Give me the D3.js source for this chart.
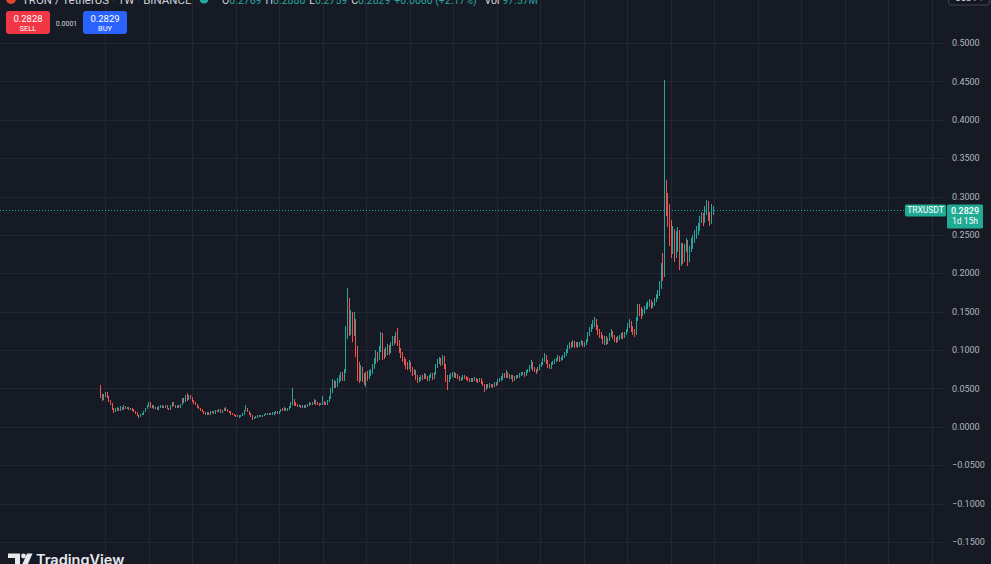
<!DOCTYPE html>
<html><head><meta charset="utf-8">
<script src="https://cdn.jsdelivr.net/npm/d3@7"></script>
<style>html,body{margin:0;padding:0;background:#161a25;overflow:hidden}svg{display:block}</style>
</head><body><svg id="c" width="991" height="564"></svg>
<script>
// ---------- data ----------
const symbol = "TRXUSDT";
const title = "TRON / TetherUS · 1W · BINANCE";
const legendLabels = ["O", "H", "L", "C"];
const legendValues = ["0.2769", "0.2880", "0.2759", "0.2829"];
const changeText = "+0.0060 (+2.17%)";
const volText = "Vol 97.57M";
const sellPrice = "0.2828", buyPrice = "0.2829", spreadText = "0.0001";
const lastPrice = 0.2829;
const countdown = "1d 15h";
const currency = "USDT";
const priceTicks = [-0.15, -0.10, -0.05, 0, 0.05, 0.10, 0.15, 0.20, 0.25, 0.30, 0.35, 0.40, 0.45, 0.50];
const firstWeek = "2018-06-11";
const firstOpen = 0.050;
const closes = [
.040,.036,.041,.044,.039,.034,.030,.024,.020,.022,
.024,.022,.025,.023,.026,.024,.025,.023,.024,.022,
.020,.018,.015,.014,.016,.017,.020,.024,.027,.030,
.026,.028,.024,.025,.023,.026,.027,.025,.026,.028,
.024,.023,.027,.031,.028,.026,.027,.025,.029,.035,
.033,.039,.036,.040,.038,.034,.032,.029,.026,.024,
.022,.020,.018,.017,.018,.017,.019,.020,.018,.021,
.020,.022,.019,.021,.023,.022,.020,.019,.017,.016,
.015,.014,.013,.014,.015,.017,.021,.024,.020,.017,
.015,.011,.012,.013,.014,.015,.014,.015,.016,.017,
.017,.016,.017,.018,.018,.019,.018,.020,.022,
.021,.024,.022,.023,.026,.031,.034,.030,.029,.027,
.028,.026,.027,.026,.027,.028,.030,.029,.031,.033,
.031,.030,.029,.030,.032,.031,.030,.033,.037,.046,
.052,.058,.054,.060,.064,.068,.064,.072,.125,.160,
.130,.145,.125,.135,.100,.075,.068,.074,.065,.062,
.068,.064,.070,.072,.078,.085,.095,.090,.100,.115,
.098,.095,.100,.104,.098,.108,.115,.112,.118,
.110,.100,.095,.088,.085,.080,.078,.082,.076,.070,
.072,.065,.060,.062,.066,.064,.068,.064,.062,.066,
.068,.064,.070,.080,.085,.088,.082,.090,.080,.065,
.060,.065,.068,.070,.066,.068,.064,.062,.063,.066,
.064,.063,.062,.060,.062,.061,.063,.060,.059,.062,
.058,.055,.050,.054,.052,.055,.054,.053,.056,.055,
.060,.062,.063,.068,.066,.070,.067,.064,.066,.062,
.064,.066,.065,.068,.069,.070,.067,.072,.074,.078,
.082,.076,.074,.072,.076,.080,.082,.086,.092,.085,
.080,.078,.082,.084,.086,.088,.090,.088,.089,.092,
.094,.098,.104,.108,.106,.110,.106,.108,.106,.108,
.110,.106,.108,.112,.120,.126,.130,.135,.138,.130,
.125,.120,.118,.112,.116,.110,.114,.120,.123,.118,
.114,.112,.116,.118,.120,.118,.122,.126,.132,.136,
.128,.124,.122,.140,.155,.152,.148,.150,.155,.158,
.160,.162,.158,.160,.165,.170,.175,.185,.205,.200,
.320,.300,.280,.260,.240,.250,.230,.240,.250,.220,
.235,.220,.235,.240,.220,.230,.235,.245,.250,
.255,.260,.270,.275,.270,.285,.290,.275,.268,
.2769,.2829];
const highs = [
.055,.043,.043,.046,.045,.040,.035,.031,.025,.024,
.026,.025,.027,.026,.028,.027,.026,.026,.025,.025,
.023,.021,.019,.016,.017,.018,.021,.025,.029,.033,
.032,.029,.029,.026,.026,.027,.029,.028,.027,.029,
.029,.025,.028,.033,.032,.029,.028,.028,.030,.037,
.038,.041,.044,.042,.041,.039,.035,.033,.030,.027,
.025,.023,.021,.019,.019,.019,.020,.021,.021,.022,
.022,.023,.023,.022,.024,.026,.023,.021,.020,.018,
.017,.016,.015,.015,.016,.018,.022,.029,.025,.021,
.018,.016,.013,.014,.015,.016,.016,.016,.017,.018,
.018,.018,.018,.019,.019,.020,.020,.021,.023,
.024,.026,.025,.024,.027,.033,.050,.036,.032,.030,
.029,.029,.028,.028,.028,.030,.032,.031,.033,.036,
.035,.032,.031,.031,.040,.034,.032,.035,.040,.050,
.062,.061,.060,.063,.067,.072,.071,.075,.131,.181,
.168,.152,.150,.150,.140,.105,.085,.080,.078,.070,
.072,.073,.074,.076,.082,.090,.100,.098,.105,.124,
.122,.102,.104,.108,.107,.111,.118,.118,.123,
.129,.113,.103,.097,.091,.088,.084,.087,.084,.078,
.075,.074,.067,.065,.068,.068,.070,.069,.066,.068,
.070,.070,.072,.082,.088,.091,.090,.094,.092,.082,
.068,.068,.070,.072,.071,.070,.069,.066,.065,.068,
.067,.066,.065,.064,.064,.063,.065,.064,.062,.064,
.063,.060,.056,.056,.056,.057,.056,.056,.058,.058,
.062,.064,.066,.070,.070,.074,.072,.069,.068,.067,
.066,.068,.068,.070,.071,.072,.071,.074,.076,.080,
.087,.084,.078,.076,.078,.082,.084,.090,.096,.094,
.087,.082,.084,.086,.088,.090,.093,.092,.091,.094,
.097,.101,.107,.111,.111,.113,.112,.110,.110,.110,
.113,.112,.110,.115,.123,.130,.134,.139,.143,.141,
.133,.128,.123,.120,.118,.118,.116,.122,.127,.125,
.120,.117,.118,.120,.122,.123,.124,.128,.135,.140,
.138,.131,.127,.143,.160,.160,.156,.154,.158,.161,
.164,.166,.165,.163,.168,.173,.178,.190,.213,.226,
.452,.322,.305,.290,.270,.262,.258,.255,.260,.256,
.240,.240,.238,.246,.244,.236,.246,.250,.256,
.262,.266,.274,.280,.278,.288,.296,.294,.280,
.290,.2880];
const lows = [
.037,.034,.035,.039,.037,.032,.028,.022,.018,.019,
.021,.021,.021,.022,.022,.023,.023,.022,.022,.021,
.019,.017,.014,.012,.013,.015,.016,.019,.023,.026,
.025,.025,.023,.023,.022,.022,.025,.024,.024,.025,
.023,.022,.022,.026,.027,.025,.025,.024,.024,.028,
.031,.032,.034,.035,.036,.032,.030,.028,.025,.023,
.021,.019,.017,.015,.016,.016,.016,.018,.017,.017,
.019,.019,.018,.018,.020,.021,.019,.018,.016,.015,
.014,.013,.0125,.012,.013,.014,.016,.020,.019,.016,
.013,.009,.010,.011,.012,.013,.013,.013,.014,.015,
.016,.015,.015,.016,.016,.017,.017,.017,.019,
.020,.020,.021,.021,.022,.025,.029,.027,.027,.026,
.026,.025,.025,.025,.025,.026,.027,.028,.028,.030,
.029,.028,.027,.028,.029,.029,.028,.029,.032,.036,
.044,.050,.050,.052,.057,.060,.060,.060,.070,.115,
.118,.120,.110,.118,.091,.060,.057,.060,.058,.055,
.052,.060,.062,.066,.069,.075,.082,.085,.087,.097,
.087,.088,.091,.093,.094,.096,.105,.107,.109,
.105,.096,.090,.084,.080,.076,.074,.075,.072,.066,
.067,.061,.057,.058,.060,.061,.062,.062,.060,.060,
.063,.061,.062,.068,.077,.082,.079,.080,.075,.058,
.048,.058,.062,.065,.064,.064,.062,.060,.060,.061,
.062,.061,.060,.058,.059,.059,.060,.058,.057,.058,
.056,.053,.046,.048,.050,.051,.052,.051,.052,.053,
.054,.058,.060,.061,.063,.064,.064,.062,.062,.058,
.060,.062,.063,.064,.066,.067,.065,.066,.070,.072,
.076,.073,.071,.069,.071,.074,.078,.080,.084,.082,
.077,.075,.076,.080,.082,.084,.086,.085,.086,.087,
.090,.092,.096,.102,.103,.104,.103,.104,.103,.104,
.106,.104,.104,.106,.110,.118,.123,.127,.130,.126,
.120,.116,.114,.108,.107,.107,.108,.112,.117,.115,
.111,.109,.110,.113,.115,.115,.116,.120,.124,.129,
.124,.120,.117,.120,.138,.145,.140,.144,.147,.152,
.154,.156,.154,.155,.157,.162,.166,.170,.180,.190,
.195,.275,.260,.235,.220,.225,.215,.220,.228,.204,
.210,.212,.215,.228,.210,.215,.228,.232,.240,
.245,.250,.255,.265,.262,.266,.276,.268,.262,
.264,.2759];

// ---------- layout ----------
const W = 991, H = 564;
const C = {
  bg: "#161a25", grid: "#232733", text: "#b2b5be", title: "#d1d4dc",
  up: "#26a69a", down: "#ef5350", sell: "#f23645", buy: "#2962ff", label: "#22ab94"
};
const plotRight = 945;
const N = closes.length;
const opens = closes.map((c, i) => i === 0 ? firstOpen : closes[i - 1]);
const start = d3.timeParse("%Y-%m-%d")(firstWeek);
const dates = closes.map((_, i) => d3.timeDay.offset(start, 7 * i));

const barStep = 1.669;
const x = d3.scaleTime().domain([dates[0], dates[N - 1]]).range([100, 100 + barStep * (N - 1)]);
const y = d3.scaleLinear().domain([-0.15, 0.50]).range([542, 43]);

const svg = d3.select("#c");
svg.append("rect").attr("width", W).attr("height", H).attr("fill", C.bg);

// grid
const gridG = svg.append("g").attr("shape-rendering", "crispEdges");
const vDates = d3.timeMonth.every(6).range(new Date(2018, 6, 1), new Date(2029, 0, 2))
  .filter(d => x(d) < plotRight);
gridG.selectAll("line.v").data(vDates).join("line")
  .attr("x1", d => Math.round(x(d)) + 0.5).attr("x2", d => Math.round(x(d)) + 0.5)
  .attr("y1", 0).attr("y2", H).attr("stroke", C.grid).attr("stroke-width", 1);
gridG.selectAll("line.h").data(priceTicks).join("line")
  .attr("x1", 0).attr("x2", plotRight)
  .attr("y1", d => Math.round(y(d)) + 0.5).attr("y2", d => Math.round(y(d)) + 0.5)
  .attr("stroke", C.grid).attr("stroke-width", 1);

// price axis labels
const fmt = d3.format(".4f");
svg.append("g").selectAll("text").data(priceTicks).join("text")
  .attr("x", 952).attr("y", d => y(d)).attr("dy", "0.35em")
  .attr("font-family", "Roboto, 'Liberation Sans', sans-serif").attr("font-size", 9)
  .attr("fill", C.text).text(d => fmt(d));

// candles
const cg = svg.append("g").attr("shape-rendering", "crispEdges");
const candles = closes.map((c, i) => ({ i, o: opens[i], h: highs[i], l: lows[i], c }));
cg.selectAll("rect.w").data(candles).join("rect")
  .attr("x", d => Math.round(x(dates[d.i]))).attr("width", 1)
  .attr("y", d => y(Math.max(d.h, d.o, d.c)))
  .attr("height", d => Math.max(1, y(Math.min(d.l, d.o, d.c)) - y(Math.max(d.h, d.o, d.c))))
  .attr("fill", d => d.c >= d.o ? C.up : C.down);
cg.selectAll("rect.b").data(candles).join("rect")
  .attr("x", d => Math.round(x(dates[d.i])) - 0.3).attr("width", 1.6)
  .attr("y", d => y(Math.max(d.o, d.c)))
  .attr("height", d => Math.max(1, Math.abs(y(d.o) - y(d.c))))
  .attr("fill", d => d.c >= d.o ? C.up : C.down);

// last price line
const py = Math.round(y(lastPrice)) + 0.5;
svg.append("line").attr("x1", 0).attr("x2", 905).attr("y1", py).attr("y2", py)
  .attr("stroke", C.up).attr("stroke-width", 1).attr("stroke-dasharray", "1,2");
svg.append("rect").attr("x", 905).attr("y", py - 6).attr("width", 41).attr("height", 12)
  .attr("rx", 1.5).attr("fill", C.label);
svg.append("text").attr("x", 925.5).attr("y", py).attr("dy", "0.35em").attr("text-anchor", "middle")
  .attr("font-family", "Roboto, sans-serif").attr("font-size", 8.5).attr("fill", "#fff").text(symbol);
svg.append("rect").attr("x", 947).attr("y", py - 6).attr("width", 36).attr("height", 24)
  .attr("rx", 1.5).attr("fill", C.label);
svg.append("text").attr("x", 965).attr("y", py).attr("dy", "0.35em").attr("text-anchor", "middle")
  .attr("font-family", "Roboto, sans-serif").attr("font-size", 9).attr("font-weight", 500)
  .attr("fill", "#fff").text(d3.format(".4f")(lastPrice));
svg.append("text").attr("x", 965).attr("y", py + 11).attr("dy", "0.35em").attr("text-anchor", "middle")
  .attr("font-family", "Roboto, sans-serif").attr("font-size", 8.5).attr("fill", "#fff").text(countdown);

// currency button (top right, cropped)
svg.append("rect").attr("x", 948.5).attr("y", -16).attr("width", 41).attr("height", 21)
  .attr("rx", 3).attr("fill", "#131722").attr("stroke", "#434651");
svg.append("text").attr("x", 955).attr("y", 1).attr("font-family", "Roboto, sans-serif")
  .attr("font-size", 9).attr("fill", C.title).text(currency + " ▾");

// header (cropped at top)
svg.append("circle").attr("cx", 11).attr("cy", -1).attr("r", 5).attr("fill", "#e0452f");
svg.append("text").attr("x", 22).attr("y", 3.5).attr("font-family", "Roboto, sans-serif")
  .attr("font-size", 11.5).attr("fill", C.title).text(title);
svg.append("circle").attr("cx", 204).attr("cy", -1).attr("r", 4.5).attr("fill", C.up);
const legend = svg.append("text").attr("x", 222).attr("y", 3.5)
  .attr("font-family", "Roboto, sans-serif").attr("font-size", 10.5);
legendLabels.forEach((lab, k) => {
  legend.append("tspan").attr("fill", C.title).attr("dx", k ? 4 : 0).text(lab);
  legend.append("tspan").attr("fill", C.up).text(legendValues[k]);
});
legend.append("tspan").attr("fill", C.up).attr("dx", 4).text(changeText);
legend.append("tspan").attr("fill", C.title).attr("dx", 8).text("Vol ");
legend.append("tspan").attr("fill", C.up).text(volText.replace("Vol ", ""));

// sell / buy
function tradeBox(x0, fill, price, label) {
  svg.append("rect").attr("x", x0).attr("y", 11).attr("width", 44).attr("height", 23)
    .attr("rx", 3).attr("fill", fill);
  svg.append("text").attr("x", x0 + 22).attr("y", 18.5).attr("dy", "0.35em").attr("text-anchor", "middle")
    .attr("font-family", "Roboto, sans-serif").attr("font-size", 9.5).attr("fill", "#fff").text(price);
  svg.append("text").attr("x", x0 + 22).attr("y", 28.5).attr("dy", "0.35em").attr("text-anchor", "middle")
    .attr("font-family", "Roboto, sans-serif").attr("font-size", 7.5).attr("fill", "#fff").text(label);
}
tradeBox(6, C.sell, sellPrice, "SELL");
tradeBox(83, C.buy, buyPrice, "BUY");
svg.append("text").attr("x", 66.5).attr("y", 24).attr("dy", "0.35em").attr("text-anchor", "middle")
  .attr("font-family", "Roboto, sans-serif").attr("font-size", 7).attr("fill", C.title).text(spreadText);

// TradingView watermark
const logo = svg.append("g").attr("fill", "#e8e9ec");
logo.append("path").attr("d", "M8 553.5 H20 V565 H15 V558 H8 Z");
logo.append("circle").attr("cx", 23.5).attr("cy", 556).attr("r", 2.4);
logo.append("path").attr("d", "M27 553.5 H32.5 L27.5 565 H22 Z");
svg.append("text").attr("x", 36).attr("y", 564.5).attr("font-family", "Inter, Roboto, sans-serif")
  .attr("font-size", 14.5).attr("font-weight", 600).attr("fill", "#e8e9ec").text("TradingView");
</script></body></html>
